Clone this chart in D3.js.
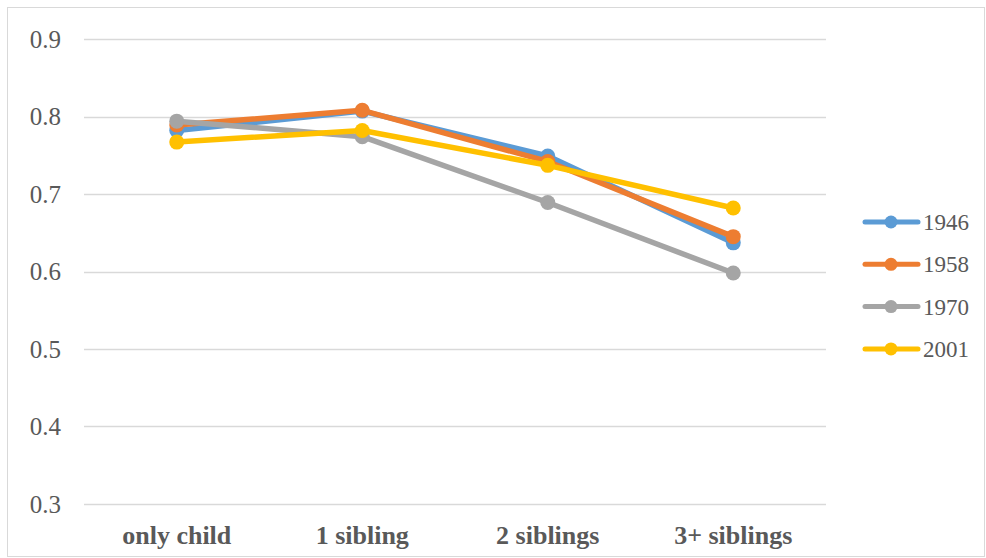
<!DOCTYPE html>
<html>
<head>
<meta charset="utf-8">
<script src="https://cdn.jsdelivr.net/npm/d3@7"></script>
<style>
  html, body { margin: 0; padding: 0; background: #fff; }
  svg { display: block; }
</style>
</head>
<body>
<svg id="chart" width="986" height="558"></svg>
<script>
// Category labels along the x axis
const categories = ["only child", "1 sibling", "2 siblings", "3+ siblings"];
// Cohort series
const seriesNames = ["1946", "1958", "1970", "2001"];
const values1946 = [0.782, 0.807, 0.749, 0.637];
const values1958 = [0.789, 0.808, 0.742, 0.645];
const values1970 = [0.794, 0.774, 0.689, 0.598];
const values2001 = [0.767, 0.782, 0.737, 0.682];
const yTicks = [0.3, 0.4, 0.5, 0.6, 0.7, 0.8, 0.9];

const colors = ["#5B9BD5", "#ED7D31", "#A5A5A5", "#FFC000"];
const series = [values1946, values1958, values1970, values2001].map((v, i) => ({
  name: seriesNames[i], values: v, color: colors[i]
}));

const FONT = "'Liberation Serif', 'Times New Roman', serif";
const TEXT_COLOR = "#595959";

const svg = d3.select("#chart");
const W = 986, H = 558;

// outer chart frame
svg.append("rect")
  .attr("x", 7.5).attr("y", 7.5).attr("width", W - 9).attr("height", H - 9)
  .attr("fill", "#fff").attr("stroke", "#d9d9d9").attr("stroke-width", 1);

const plot = { left: 84, right: 826, top: 39, bottom: 504 };

const x = d3.scaleBand().domain(categories).range([plot.left, plot.right]);
const y = d3.scaleLinear().domain([0.3, 0.9]).range([plot.bottom, plot.top]);

// horizontal gridlines
svg.append("g")
  .selectAll("line").data(yTicks).join("line")
  .attr("x1", plot.left).attr("x2", plot.right)
  .attr("y1", d => Math.round(y(d)) + 0.5).attr("y2", d => Math.round(y(d)) + 0.5)
  .attr("stroke", "#d9d9d9").attr("stroke-width", 1.3);

// y axis labels
const yAxis = d3.axisLeft(y).tickValues(yTicks).tickFormat(d3.format(".1f")).tickSize(0).tickPadding(23);
const gy = svg.append("g").attr("transform", `translate(${plot.left},0)`).call(yAxis)
  .attr("font-family", FONT).attr("font-size", 25);
gy.select(".domain").remove();
gy.selectAll("text").attr("fill", TEXT_COLOR);

// x axis labels
const xAxis = d3.axisBottom(x).tickSize(0).tickPadding(22);
const gx = svg.append("g").attr("transform", `translate(0,${plot.bottom})`).call(xAxis)
  .attr("font-family", FONT).attr("font-size", 26).attr("font-weight", "bold");
gx.select(".domain").remove();
gx.selectAll("text").attr("fill", TEXT_COLOR);

const cx = c => x(c) + x.bandwidth() / 2;
const line = d3.line().x((d, i) => cx(categories[i])).y(d => y(d));

// series lines and markers
series.forEach(s => {
  const g = svg.append("g");
  g.append("path").datum(s.values)
    .attr("d", line).attr("fill", "none")
    .attr("stroke", s.color).attr("stroke-width", 5.5)
    .attr("stroke-linejoin", "round").attr("stroke-linecap", "round");
  g.selectAll("circle").data(s.values).join("circle")
    .attr("cx", (d, i) => cx(categories[i])).attr("cy", d => y(d))
    .attr("r", 7.5).attr("fill", s.color);
});

// legend
const legend = svg.append("g").attr("font-family", FONT).attr("font-size", 23);
series.forEach((s, i) => {
  const ly = 222 + i * 42.3;
  const g = legend.append("g").attr("transform", `translate(0,${ly})`);
  g.append("line").attr("x1", 865).attr("x2", 918).attr("y1", 0).attr("y2", 0)
    .attr("stroke", s.color).attr("stroke-width", 5).attr("stroke-linecap", "round");
  g.append("circle").attr("cx", 891).attr("cy", 0).attr("r", 6.5).attr("fill", s.color);
  g.append("text").attr("x", 923).attr("y", 0).attr("dy", "0.35em")
    .attr("fill", TEXT_COLOR).text(s.name);
});
</script>
</body>
</html>
